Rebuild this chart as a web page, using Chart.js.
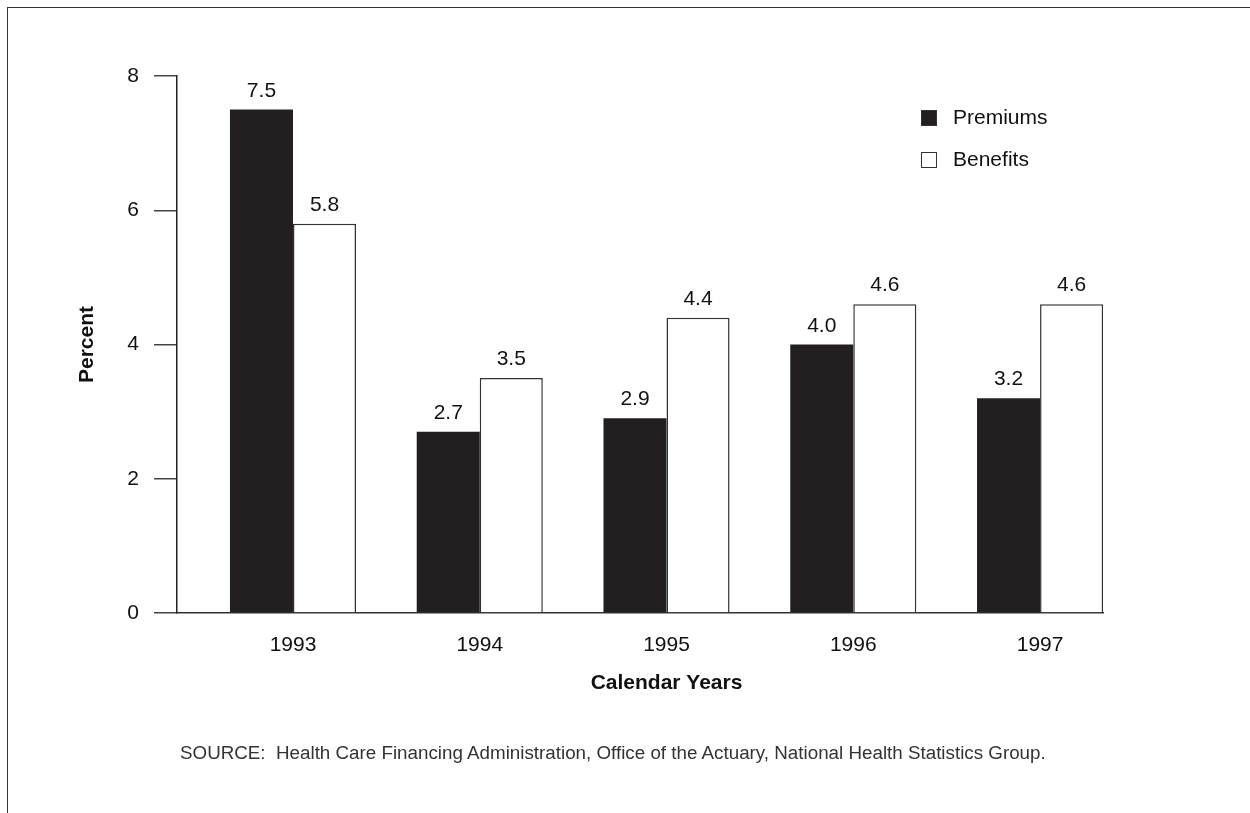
<!DOCTYPE html>
<html>
<head>
<meta charset="utf-8">
<title>Premiums and Benefits, 1993-1997</title>
<script src="https://cdn.jsdelivr.net/npm/chart.js@4.4.1/dist/chart.umd.min.js"></script>
<style>
  html, body { margin: 0; padding: 0; background: #fff; }
  #wrap { position: relative; width: 1250px; height: 813px; overflow: hidden; }
  #frame { position: absolute; left: 7px; top: 7px; right: 0; bottom: 0; border-top: 1px solid #333; border-left: 1px solid #333; }
  #chart { position: absolute; left: 0; top: 0; }
  #source { position: absolute; left: 180px; top: 742px; font: 18.8px "Liberation Sans", Arial, sans-serif; color: #333; white-space: pre; }
</style>
</head>
<body>
<div id="wrap">
  <div id="frame"></div>
  <canvas id="chart" width="1250" height="813"></canvas>
  <div id="source">SOURCE:  Health Care Financing Administration, Office of the Actuary, National Health Statistics Group.</div>
</div>
<script>
const years = ['1993', '1994', '1995', '1996', '1997'];
const premiums = [7.5, 2.7, 2.9, 4.0, 3.2];
const benefits = [5.8, 3.5, 4.4, 4.6, 4.6];

const FONT = '"Liberation Sans", Arial, sans-serif';
const INK = '#231f20';

// value labels above each bar
const barValues = {
  id: 'barValues',
  afterDatasetsDraw(chart) {
    const ctx = chart.ctx;
    ctx.save();
    ctx.font = `21px ${FONT}`;
    ctx.fillStyle = '#111';
    ctx.textAlign = 'center';
    ctx.textBaseline = 'alphabetic';
    chart.data.datasets.forEach((ds, i) => {
      chart.getDatasetMeta(i).data.forEach((bar, j) => {
        ctx.fillText(ds.data[j].y.toFixed(1), bar.x, bar.y - 13);
      });
    });
    ctx.restore();
  }
};

// stacked legend in the upper right corner
const boxLegend = {
  id: 'boxLegend',
  afterDraw(chart) {
    const ctx = chart.ctx;
    ctx.save();
    ctx.font = `21px ${FONT}`;
    ctx.textBaseline = 'middle';
    chart.data.datasets.forEach((ds, i) => {
      const top = 110 + i * 42;
      ctx.fillStyle = ds.backgroundColor;
      ctx.fillRect(921, top, 16, 16);
      ctx.strokeStyle = '#333';
      ctx.lineWidth = 1;
      ctx.strokeRect(921.5, top + 0.5, 15, 15);
      ctx.fillStyle = '#111';
      ctx.fillText(ds.label, 953, top + 8);
    });
    ctx.restore();
  }
};

// x axis title centred under the year groups
const xTitle = {
  id: 'xTitle',
  afterDraw(chart) {
    const x = chart.scales.x;
    const first = x.getPixelForValue(+years[0]);
    const last = x.getPixelForValue(+years[years.length - 1]);
    const ctx = chart.ctx;
    ctx.save();
    ctx.font = `bold 21px ${FONT}`;
    ctx.fillStyle = '#111';
    ctx.textAlign = 'center';
    ctx.textBaseline = 'middle';
    ctx.fillText('Calendar Years', (first + last) / 2, x.top + 70);
    ctx.restore();
  }
};

new Chart(document.getElementById('chart'), {
  type: 'bar',
  data: {
    datasets: [
      {
        label: 'Premiums',
        data: years.map((y, i) => ({ x: +y, y: premiums[i] })),
        backgroundColor: INK,
        borderWidth: 0
      },
      {
        label: 'Benefits',
        data: years.map((y, i) => ({ x: +y, y: benefits[i] })),
        backgroundColor: '#ffffff',
        borderColor: '#333',
        borderWidth: 1.5
      }
    ]
  },
  options: {
    responsive: false,
    animation: false,
    categoryPercentage: 0.675,
    barPercentage: 1,
    layout: { padding: { top: 76, right: 147, left: 0, bottom: 0 } },
    plugins: {
      legend: { display: false },
      tooltip: { enabled: false }
    },
    scales: {
      x: {
        type: 'linear',
        offset: false,
        min: 1992.379,
        max: 1997.337,
        afterBuildTicks: axis => { axis.ticks = years.map(y => ({ value: +y })); },
        afterFit: axis => { axis.height = 200; },
        grid: { display: false },
        border: { display: true, color: '#333', width: 1.5 },
        ticks: {
          padding: 12,
          color: '#111',
          font: { family: FONT, size: 21 },
          callback: v => String(v)
        }
      },
      y: {
        min: 0,
        max: 8,
        afterFit: axis => { axis.width = 177; },
        grid: { drawOnChartArea: false, tickLength: 23, color: '#444', lineWidth: 1.5 },
        border: { display: true, color: '#222', width: 1.5 },
        ticks: {
          stepSize: 2,
          padding: 15,
          color: '#111',
          font: { family: FONT, size: 21 }
        },
        title: {
          display: true,
          text: 'Percent',
          color: '#111',
          font: { family: FONT, size: 21, weight: 'bold' },
          padding: { top: 75, bottom: 0 }
        }
      }
    }
  },
  plugins: [barValues, boxLegend, xTitle]
});
</script>
</body>
</html>
